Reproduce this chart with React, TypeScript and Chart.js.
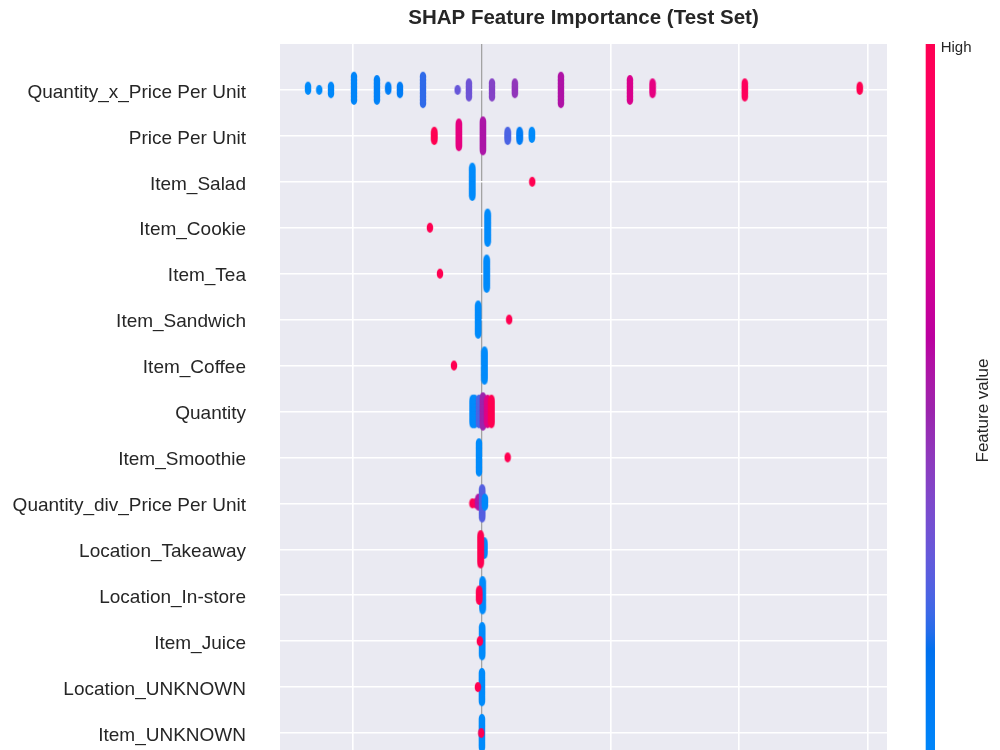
import React, { useEffect, useRef } from "react";
import { Chart, registerables } from "chart.js";

Chart.register(...registerables);

// Features, top row first
const FEATURES = [
  "Quantity_x_Price Per Unit",
  "Price Per Unit",
  "Item_Salad",
  "Item_Cookie",
  "Item_Tea",
  "Item_Sandwich",
  "Item_Coffee",
  "Quantity",
  "Item_Smoothie",
  "Quantity_div_Price Per Unit",
  "Location_Takeaway",
  "Location_In-store",
  "Item_Juice",
  "Location_UNKNOWN",
  "Item_UNKNOWN",
];

// SHAP value of each group of test samples, per feature
const SHAP_VALUES: number[][] = [
  [-1.351, -1.264, -1.173, -0.994, -0.816, -0.728, -0.637, -0.458, -0.189, -0.101, 0.078, 0.256, 0.614, 1.15, 1.326, 2.043, 2.936],
  [-0.37, -0.179, 0.008, 0.2, 0.293, 0.388],
  [-0.075, 0.391],
  [-0.404, 0.044],
  [-0.326, 0.037],
  [-0.029, 0.212],
  [-0.217, 0.02],
  [-0.072, -0.056, -0.023, 0.008, 0.043, 0.074],
  [-0.023, 0.2],
  [-0.074, -0.05, -0.027, 0.002, 0.023],
  [0.019, -0.01],
  [0.005, -0.021],
  [0.002, -0.016],
  [0.0, -0.031],
  [0.0, -0.005],
];

// Normalised feature value (0 = low, 1 = high) of each group
const FEATURE_VALUES: number[][] = [
  [0.0, 0.0, 0.02, 0.04, 0.06, 0.08, 0.1, 0.21, 0.31, 0.33, 0.4, 0.45, 0.56, 0.72, 0.78, 0.95, 1.0],
  [1.0, 0.78, 0.55, 0.25, 0.1, 0.0],
  [0, 1],
  [1, 0],
  [1, 0],
  [0, 1],
  [1, 0],
  [0, 0, 0.25, 0.5, 0.75, 1],
  [0, 1],
  [1, 0.95, 0.55, 0.27, 0.02],
  [0, 1],
  [0, 1],
  [0, 1],
  [0, 1],
  [0, 1],
];

// Number of samples sharing each SHAP value
const SAMPLE_COUNTS: number[][] = [
  [2, 1, 3, 8, 7, 2, 3, 9, 1, 5, 5, 4, 9, 7, 4, 5, 2],
  [5, 12, 15, 5, 5, 4],
  [13, 1],
  [1, 13],
  [1, 13],
  [13, 1],
  [1, 13],
  [11, 11, 11, 13, 11, 11],
  [13, 1],
  [1, 1, 4, 13, 4],
  [6, 13],
  [13, 5],
  [13, 1],
  [13, 1],
  [13, 1],
];

const X_GRID_TICKS = [-1, 0, 1, 2, 3];
const X_MIN = -1.569;
const X_MAX = 3.148;

const FONT = '"Liberation Sans", Arial, Helvetica, sans-serif';
const TEXT_COLOR = "#262626";

// SHAP's red_blue colormap: interpolation in LCH space
function lchToRgb(l: number, c: number, h: number): string {
  const a = c * Math.cos(h);
  const b = c * Math.sin(h);
  const fy = (l + 16) / 116;
  const fx = fy + a / 500;
  const fz = fy - b / 200;
  const finv = (t: number) => (t * t * t > 0.008856 ? t * t * t : (t - 16 / 116) / 7.787);
  const X = 0.95047 * finv(fx);
  const Y = 1.0 * finv(fy);
  const Z = 1.08883 * finv(fz);
  const lin = [
    3.2406 * X - 1.5372 * Y - 0.4986 * Z,
    -0.9689 * X + 1.8758 * Y + 0.0415 * Z,
    0.0557 * X - 0.204 * Y + 1.057 * Z,
  ];
  const out = lin.map((v) => {
    const g = v > 0.0031308 ? 1.055 * Math.pow(v, 1 / 2.4) - 0.055 : 12.92 * v;
    return Math.round(Math.min(1, Math.max(0, g)) * 255);
  });
  return `rgb(${out[0]},${out[1]},${out[2]})`;
}

function redBlue(t: number): string {
  const u = Math.min(1, Math.max(0, t));
  const l = u < 0.5 ? 54 + (40 - 54) * (u / 0.5) : 40 + (54 - 40) * ((u - 0.5) / 0.5);
  const c = 70 + 20 * u;
  const h0 = 4.6588;
  const h1 = 0.35470565 + 2 * Math.PI;
  return lchToRgb(l, c, h0 + (h1 - h0) * u);
}

// Elliptical dot sprites, cached by colour
const spriteCache = new Map<string, HTMLCanvasElement>();
function dotSprite(color: string): HTMLCanvasElement {
  let s = spriteCache.get(color);
  if (!s) {
    s = document.createElement("canvas");
    s.width = 8;
    s.height = 12;
    const g = s.getContext("2d")!;
    g.fillStyle = color;
    g.beginPath();
    g.ellipse(4, 6, 3.25, 5, 0, 0, Math.PI * 2);
    g.fill();
    spriteCache.set(color, s);
  }
  return s;
}

// Beeswarm stacking as in shap.summary_plot: 0, +1, -1, +2, -2, ...
function buildDatasets() {
  const n = FEATURES.length;
  return FEATURES.map((name, i) => {
    const row = n - 1 - i;
    const counts = SAMPLE_COUNTS[i];
    const maxLayer = Math.max(...counts.map((c) => Math.ceil((c - 1) / 2)));
    const step = (0.9 * 0.4) / (maxLayer + 1);
    const data: { x: number; y: number }[] = [];
    const styles: HTMLCanvasElement[] = [];
    SHAP_VALUES[i].forEach((v, j) => {
      const sprite = dotSprite(redBlue(FEATURE_VALUES[i][j]));
      for (let layer = 0; layer < counts[j]; layer++) {
        const k = Math.ceil(layer / 2) * (layer % 2 === 1 ? 1 : -1);
        data.push({ x: v, y: row + k * step });
        styles.push(sprite);
      }
    });
    return {
      label: name,
      data,
      pointStyle: styles,
      pointRadius: 4,
      pointHoverRadius: 4,
      showLine: false,
    };
  });
}

const plotBackground = {
  id: "plotBackground",
  beforeDraw(chart: any) {
    const { ctx, chartArea } = chart;
    ctx.save();
    ctx.fillStyle = "#EAEAF2";
    ctx.fillRect(chartArea.left, chartArea.top, chartArea.right - chartArea.left, chartArea.bottom - chartArea.top);
    ctx.restore();
  },
};

const decorations = {
  id: "decorations",
  afterDraw(chart: any) {
    const { ctx, chartArea } = chart;
    ctx.save();

    // title
    ctx.fillStyle = TEXT_COLOR;
    ctx.font = `bold 20.5px ${FONT}`;
    ctx.textAlign = "center";
    ctx.textBaseline = "alphabetic";
    ctx.fillText("SHAP Feature Importance (Test Set)", (chartArea.left + chartArea.right) / 2, 23.5);

    // colour bar
    const cbX = 925.7;
    const cbW = 9.3;
    const top = chartArea.top;
    const bottom = chartArea.bottom;
    const grad = ctx.createLinearGradient(0, bottom, 0, top);
    for (let i = 0; i <= 40; i++) {
      grad.addColorStop(i / 40, redBlue(i / 40));
    }
    ctx.fillStyle = grad;
    ctx.fillRect(cbX, top, cbW, bottom - top);

    ctx.fillStyle = TEXT_COLOR;
    ctx.font = `15px ${FONT}`;
    ctx.textAlign = "left";
    ctx.fillText("High", 940.7, 51.5);
    ctx.fillText("Low", 940.7, bottom + 7);

    ctx.font = `17px ${FONT}`;
    ctx.translate(987.5, (top + bottom) / 2 - 1);
    ctx.rotate(-Math.PI / 2);
    ctx.textAlign = "center";
    ctx.fillText("Feature value", 0, 0);
    ctx.restore();
  },
};

export default function App() {
  const canvasRef = useRef<HTMLCanvasElement | null>(null);

  useEffect(() => {
    const canvas = canvasRef.current;
    if (!canvas) return;
    const n = FEATURES.length;
    const chart = new Chart(canvas, {
      type: "scatter",
      data: { datasets: buildDatasets() as any },
      options: {
        animation: false,
        responsive: false,
        maintainAspectRatio: false,
        devicePixelRatio: 1,
        events: [],
        layout: { padding: { top: 44, right: 113, bottom: 0, left: 0 } },
        plugins: {
          legend: { display: false },
          tooltip: { enabled: false },
          title: { display: false },
        },
        scales: {
          x: {
            type: "linear",
            min: X_MIN,
            max: X_MAX,
            afterBuildTicks: (s: any) => {
              s.ticks = X_GRID_TICKS.map((v) => ({ value: v }));
            },
            afterFit: (s: any) => {
              s.height = 21;
              s.paddingLeft = 0;
              s.paddingRight = 0;
            },
            ticks: { display: false },
            grid: {
              color: (c: any) => (c.tick && c.tick.value === 0 ? "#a3a3a3" : "#ffffff"),
              lineWidth: (c: any) => (c.tick && c.tick.value === 0 ? 1.3 : 1.6),
              drawTicks: false,
            },
            border: { display: false },
          },
          y: {
            type: "linear",
            min: -1,
            max: n,
            afterBuildTicks: (s: any) => {
              s.ticks = FEATURES.map((_, i) => ({ value: i }));
            },
            afterFit: (s: any) => {
              s.width = 280;
              s.paddingTop = 0;
              s.paddingBottom = 0;
            },
            ticks: {
              autoSkip: false,
              padding: 34,
              labelOffset: 2.5,
              color: TEXT_COLOR,
              font: { family: FONT, size: 19 },
              callback: (v: any) => FEATURES[n - 1 - Number(v)],
            },
            grid: { color: "#ffffff", lineWidth: 1.6, drawTicks: false },
            border: { display: false },
          },
        },
      },
      plugins: [plotBackground, decorations],
    });
    return () => chart.destroy();
  }, []);

  return (
    <div
      style={{
        position: "fixed",
        left: 0,
        top: 0,
        width: 1000,
        height: 750,
        overflow: "hidden",
        background: "#ffffff",
      }}
    >
      <canvas ref={canvasRef} width={1000} height={800} style={{ display: "block", width: 1000, height: 800 }} />
    </div>
  );
}
